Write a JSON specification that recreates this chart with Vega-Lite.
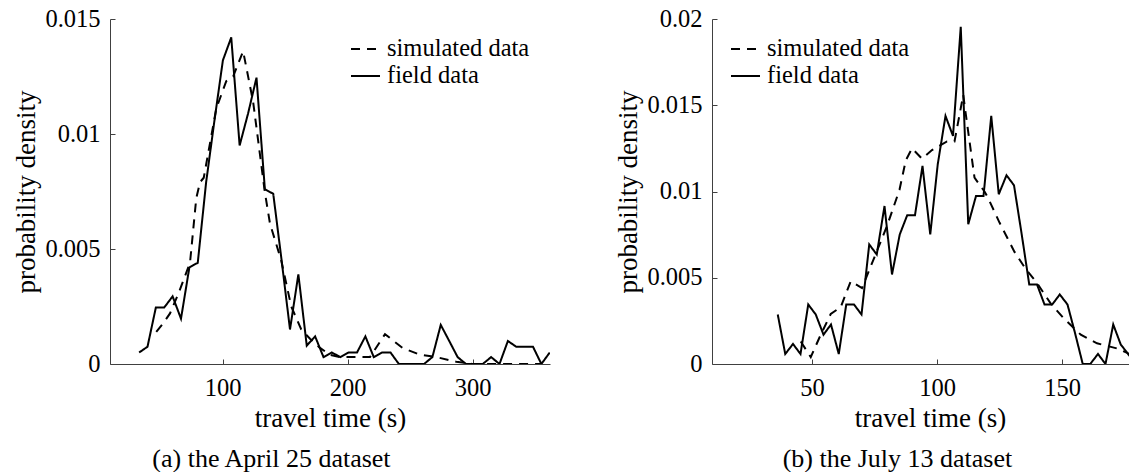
{
  "$schema": "https://vega.github.io/schema/vega-lite/v6.json",
  "background": "white",
  "padding": {"left": 12, "top": 6, "right": 0, "bottom": 0},
  "autosize": {"type": "pad"},
  "config": {
    "font": "Liberation Serif",
    "view": {"stroke": null},
    "style": {
      "guide-label": {"font": "Liberation Serif"},
      "guide-title": {"font": "Liberation Serif"},
      "group-title": {"font": "Liberation Serif"}
    },
    "axis": {
      "grid": false,
      "domainColor": "#404040",
      "domainWidth": 1,
      "tickColor": "#404040",
      "tickSize": -5,
      "tickWidth": 1,
      "labelFont": "Liberation Serif",
      "labelFontSize": 24.5,
      "labelColor": "#000",
      "titleFont": "Liberation Serif",
      "titleFontSize": 27,
      "titleFontWeight": "normal",
      "titleColor": "#000"
    },
    "axisX": {"labelPadding": 17, "titlePadding": 6},
    "axisY": {"labelPadding": 15, "titlePadding": 4},
    "legend": {
      "orient": "none",
      "symbolType": "stroke",
      "symbolSize": 841,
      "symbolStrokeWidth": 2,
      "symbolStrokeColor": "#000",
      "labelFont": "Liberation Serif",
      "labelFontSize": 24.5,
      "labelColor": "#000",
      "labelOffset": 6,
      "rowPadding": 0,
      "padding": 0
    },
    "title": {
      "font": "Liberation Serif",
      "fontSize": 26,
      "fontWeight": "normal",
      "color": "#000",
      "orient": "bottom",
      "anchor": "middle",
      "frame": "bounds",
      "offset": 14
    }
  },
  "datasets": {
    "april": [
      {"series": "field data", "t": 33.3, "p": 0.0005},
      {"series": "field data", "t": 40.0, "p": 0.00075},
      {"series": "field data", "t": 46.7, "p": 0.00246},
      {"series": "field data", "t": 53.4, "p": 0.00246},
      {"series": "field data", "t": 60.1, "p": 0.00294},
      {"series": "field data", "t": 66.8, "p": 0.00197},
      {"series": "field data", "t": 73.5, "p": 0.0042},
      {"series": "field data", "t": 80.2, "p": 0.0044},
      {"series": "field data", "t": 86.9, "p": 0.0079},
      {"series": "field data", "t": 93.6, "p": 0.0106},
      {"series": "field data", "t": 100.3, "p": 0.0132},
      {"series": "field data", "t": 107.0, "p": 0.0142},
      {"series": "field data", "t": 113.7, "p": 0.0095},
      {"series": "field data", "t": 120.5, "p": 0.0109},
      {"series": "field data", "t": 127.2, "p": 0.01245},
      {"series": "field data", "t": 133.9, "p": 0.0076},
      {"series": "field data", "t": 140.6, "p": 0.0074},
      {"series": "field data", "t": 147.3, "p": 0.0045},
      {"series": "field data", "t": 154.0, "p": 0.0015},
      {"series": "field data", "t": 160.7, "p": 0.0039},
      {"series": "field data", "t": 167.4, "p": 0.0008},
      {"series": "field data", "t": 174.1, "p": 0.0012},
      {"series": "field data", "t": 180.8, "p": 0.0003},
      {"series": "field data", "t": 187.5, "p": 0.0005},
      {"series": "field data", "t": 194.2, "p": 0.0003},
      {"series": "field data", "t": 200.9, "p": 0.0005},
      {"series": "field data", "t": 207.6, "p": 0.0005},
      {"series": "field data", "t": 214.3, "p": 0.0012},
      {"series": "field data", "t": 221.0, "p": 0.0003},
      {"series": "field data", "t": 227.7, "p": 0.0005},
      {"series": "field data", "t": 234.4, "p": 0.0005},
      {"series": "field data", "t": 241.1, "p": 0},
      {"series": "field data", "t": 247.8, "p": 0},
      {"series": "field data", "t": 254.5, "p": 0},
      {"series": "field data", "t": 261.2, "p": 0},
      {"series": "field data", "t": 267.9, "p": 0.0003},
      {"series": "field data", "t": 274.6, "p": 0.0017},
      {"series": "field data", "t": 281.4, "p": 0.001},
      {"series": "field data", "t": 288.1, "p": 0.0003},
      {"series": "field data", "t": 294.8, "p": 0},
      {"series": "field data", "t": 301.5, "p": 0},
      {"series": "field data", "t": 308.2, "p": 0},
      {"series": "field data", "t": 314.9, "p": 0.0003},
      {"series": "field data", "t": 321.6, "p": 0},
      {"series": "field data", "t": 328.3, "p": 0.001},
      {"series": "field data", "t": 335.0, "p": 0.00075},
      {"series": "field data", "t": 341.7, "p": 0.00075},
      {"series": "field data", "t": 348.4, "p": 0.00075},
      {"series": "field data", "t": 355.1, "p": 0},
      {"series": "field data", "t": 361.8, "p": 0.0005},
      {"series": "simulated data", "t": 47, "p": 0.0014},
      {"series": "simulated data", "t": 53, "p": 0.0018},
      {"series": "simulated data", "t": 58, "p": 0.0022},
      {"series": "simulated data", "t": 65, "p": 0.0031},
      {"series": "simulated data", "t": 74, "p": 0.0044},
      {"series": "simulated data", "t": 79, "p": 0.0072},
      {"series": "simulated data", "t": 82, "p": 0.0079},
      {"series": "simulated data", "t": 85, "p": 0.0081},
      {"series": "simulated data", "t": 95, "p": 0.0111},
      {"series": "simulated data", "t": 103, "p": 0.0123},
      {"series": "simulated data", "t": 108.5, "p": 0.0125},
      {"series": "simulated data", "t": 116.5, "p": 0.0136},
      {"series": "simulated data", "t": 124.5, "p": 0.0114},
      {"series": "simulated data", "t": 133.8, "p": 0.0075},
      {"series": "simulated data", "t": 138, "p": 0.0061},
      {"series": "simulated data", "t": 147, "p": 0.0045},
      {"series": "simulated data", "t": 155, "p": 0.0025},
      {"series": "simulated data", "t": 163, "p": 0.0015},
      {"series": "simulated data", "t": 170, "p": 0.0011},
      {"series": "simulated data", "t": 178, "p": 0.0007},
      {"series": "simulated data", "t": 186, "p": 0.0004},
      {"series": "simulated data", "t": 194, "p": 0.0003},
      {"series": "simulated data", "t": 202, "p": 0.0003},
      {"series": "simulated data", "t": 210, "p": 0.0003},
      {"series": "simulated data", "t": 218, "p": 0.0003},
      {"series": "simulated data", "t": 230, "p": 0.0013},
      {"series": "simulated data", "t": 244, "p": 0.0007},
      {"series": "simulated data", "t": 258, "p": 0.0004},
      {"series": "simulated data", "t": 271, "p": 0.0003},
      {"series": "simulated data", "t": 287, "p": 0.0001},
      {"series": "simulated data", "t": 300, "p": 0},
      {"series": "simulated data", "t": 320, "p": 0},
      {"series": "simulated data", "t": 340, "p": 0},
      {"series": "simulated data", "t": 355, "p": 0}
    ],
    "july": [
      {"series": "field data", "t": 36.3, "p": 0.00287},
      {"series": "field data", "t": 39.3, "p": 0.00058},
      {"series": "field data", "t": 42.4, "p": 0.00116},
      {"series": "field data", "t": 45.4, "p": 0.00058},
      {"series": "field data", "t": 48.5, "p": 0.00345},
      {"series": "field data", "t": 51.5, "p": 0.00287},
      {"series": "field data", "t": 54.6, "p": 0.0017},
      {"series": "field data", "t": 57.6, "p": 0.00229},
      {"series": "field data", "t": 60.7, "p": 0.00058},
      {"series": "field data", "t": 63.7, "p": 0.00345},
      {"series": "field data", "t": 66.8, "p": 0.00345},
      {"series": "field data", "t": 69.8, "p": 0.00287},
      {"series": "field data", "t": 72.9, "p": 0.00693},
      {"series": "field data", "t": 75.9, "p": 0.00635},
      {"series": "field data", "t": 79.0, "p": 0.00916},
      {"series": "field data", "t": 82.0, "p": 0.00519},
      {"series": "field data", "t": 85.1, "p": 0.00751},
      {"series": "field data", "t": 88.1, "p": 0.00863},
      {"series": "field data", "t": 91.2, "p": 0.00863},
      {"series": "field data", "t": 94.2, "p": 0.01148},
      {"series": "field data", "t": 97.3, "p": 0.00751},
      {"series": "field data", "t": 100.3, "p": 0.01158},
      {"series": "field data", "t": 103.4, "p": 0.01438},
      {"series": "field data", "t": 106.4, "p": 0.01322},
      {"series": "field data", "t": 109.5, "p": 0.01955},
      {"series": "field data", "t": 112.5, "p": 0.0081},
      {"series": "field data", "t": 115.6, "p": 0.00974},
      {"series": "field data", "t": 118.6, "p": 0.00974},
      {"series": "field data", "t": 121.7, "p": 0.01438},
      {"series": "field data", "t": 124.7, "p": 0.00984},
      {"series": "field data", "t": 127.8, "p": 0.01094},
      {"series": "field data", "t": 130.8, "p": 0.01036},
      {"series": "field data", "t": 133.9, "p": 0.0075},
      {"series": "field data", "t": 136.9, "p": 0.00461},
      {"series": "field data", "t": 140.0, "p": 0.00461},
      {"series": "field data", "t": 143.0, "p": 0.00345},
      {"series": "field data", "t": 146.1, "p": 0.00345},
      {"series": "field data", "t": 149.1, "p": 0.00403},
      {"series": "field data", "t": 152.2, "p": 0.00345},
      {"series": "field data", "t": 155.2, "p": 0.0018},
      {"series": "field data", "t": 158.3, "p": 0},
      {"series": "field data", "t": 161.3, "p": 0},
      {"series": "field data", "t": 164.4, "p": 0.00058},
      {"series": "field data", "t": 167.4, "p": 0},
      {"series": "field data", "t": 170.5, "p": 0.00229},
      {"series": "field data", "t": 173.5, "p": 0.00113},
      {"series": "field data", "t": 176.6, "p": 0.00055},
      {"series": "field data", "t": 179.6, "p": 0},
      {"series": "field data", "t": 182.7, "p": 0},
      {"series": "field data", "t": 185.7, "p": 0.0012},
      {"series": "simulated data", "t": 45.5, "p": 0.0013},
      {"series": "simulated data", "t": 49.5, "p": 0.0004},
      {"series": "simulated data", "t": 53.5, "p": 0.0017},
      {"series": "simulated data", "t": 57.5, "p": 0.0029},
      {"series": "simulated data", "t": 61.5, "p": 0.0033},
      {"series": "simulated data", "t": 65.5, "p": 0.0048},
      {"series": "simulated data", "t": 70, "p": 0.0044},
      {"series": "simulated data", "t": 75, "p": 0.0062},
      {"series": "simulated data", "t": 80, "p": 0.008},
      {"series": "simulated data", "t": 85, "p": 0.0101},
      {"series": "simulated data", "t": 87.5, "p": 0.0118},
      {"series": "simulated data", "t": 90, "p": 0.0125},
      {"series": "simulated data", "t": 94, "p": 0.0119},
      {"series": "simulated data", "t": 98, "p": 0.0124},
      {"series": "simulated data", "t": 104, "p": 0.0129},
      {"series": "simulated data", "t": 107, "p": 0.0129},
      {"series": "simulated data", "t": 110.5, "p": 0.0156},
      {"series": "simulated data", "t": 111.5, "p": 0.0145},
      {"series": "simulated data", "t": 115, "p": 0.0108},
      {"series": "simulated data", "t": 119, "p": 0.01},
      {"series": "simulated data", "t": 120.5, "p": 0.0096},
      {"series": "simulated data", "t": 125, "p": 0.0082},
      {"series": "simulated data", "t": 131, "p": 0.0065},
      {"series": "simulated data", "t": 135.5, "p": 0.0055},
      {"series": "simulated data", "t": 140, "p": 0.0047},
      {"series": "simulated data", "t": 145.5, "p": 0.0035},
      {"series": "simulated data", "t": 151, "p": 0.0026},
      {"series": "simulated data", "t": 157.5, "p": 0.0017},
      {"series": "simulated data", "t": 164, "p": 0.0012},
      {"series": "simulated data", "t": 172, "p": 0.0009},
      {"series": "simulated data", "t": 177.5, "p": 0.00055},
      {"series": "simulated data", "t": 183, "p": 0.00035},
      {"series": "simulated data", "t": 188, "p": 0.0002}
    ]
  },
  "spacing": 64,
  "resolve": {"scale": {"strokeDash": "independent"}, "legend": {"strokeDash": "independent"}},
  "hconcat": [
    {
      "width": 440,
      "height": 345,
      "data": {"name": "april"},
      "title": {"text": "(a) the April 25 dataset", "dx": -10, "font": "Liberation Serif"},
      "mark": {"type": "line", "color": "#000", "strokeWidth": 2, "clip": true},
      "encoding": {
        "x": {
          "field": "t", "type": "quantitative",
          "scale": {"domain": [10, 362], "nice": false, "zero": false},
          "axis": {"title": "travel time (s)", "values": [100, 200, 300], "format": "d", "labelFont": "Liberation Serif", "titleFont": "Liberation Serif"}
        },
        "y": {
          "field": "p", "type": "quantitative",
          "scale": {"domain": [0, 0.015], "nice": false},
          "axis": {"title": "probability density", "values": [0, 0.005, 0.01, 0.015], "format": ".3~f", "labelFont": "Liberation Serif", "titleFont": "Liberation Serif"}
        },
        "strokeDash": {
          "field": "series", "type": "nominal",
          "scale": {"domain": ["simulated data", "field data"], "range": [[9, 7], [1, 0]]},
          "legend": {"title": null, "legendX": 240, "legendY": 14.5, "labelFont": "Liberation Serif"}
        }
      }
    },
    {
      "width": 436,
      "height": 345,
      "data": {"name": "july"},
      "title": {"text": "(b) the July 13 dataset", "dx": 16, "font": "Liberation Serif"},
      "mark": {"type": "line", "color": "#000", "strokeWidth": 2, "clip": true},
      "encoding": {
        "x": {
          "field": "t", "type": "quantitative",
          "scale": {"domain": [10, 184.4], "nice": false, "zero": false},
          "axis": {"title": "travel time (s)", "values": [50, 100, 150], "format": "d", "labelFont": "Liberation Serif", "titleFont": "Liberation Serif"}
        },
        "y": {
          "field": "p", "type": "quantitative",
          "scale": {"domain": [0, 0.02], "nice": false},
          "axis": {"title": "probability density", "values": [0, 0.005, 0.01, 0.015, 0.02], "format": ".3~f", "labelFont": "Liberation Serif", "titleFont": "Liberation Serif"}
        },
        "strokeDash": {
          "field": "series", "type": "nominal",
          "scale": {"domain": ["simulated data", "field data"], "range": [[9, 7], [1, 0]]},
          "legend": {"title": null, "legendX": 18, "legendY": 14.5, "labelFont": "Liberation Serif"}
        }
      }
    }
  ]
}
